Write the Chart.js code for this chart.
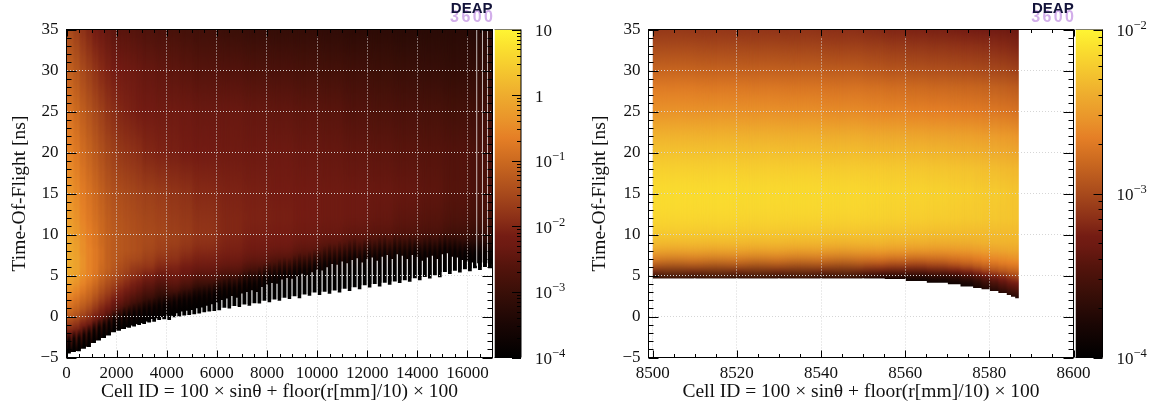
<!doctype html>
<html><head><meta charset="utf-8">
<style>html,body{margin:0;background:#fff;overflow:hidden}canvas{position:absolute;top:0}</style>
<script src="https://cdn.jsdelivr.net/npm/chart.js@4"></script>
</head><body>
<canvas id="heatL" width="494" height="408" style="left:0"></canvas>
<canvas id="barL" width="76" height="408" style="left:494px"></canvas>
<canvas id="heatR" width="520" height="408" style="left:580px"></canvas>
<canvas id="barR" width="76" height="408" style="left:1075px"></canvas>
<script>
const xTitle='Cell ID = 100 × sinθ + floor(r[mm]/10) × 100';
const yTitle='Time-Of-Flight [ns]';
const yTicks=[-5,0,5,10,15,20,25,30,35];
const yMinorTicks=[-4,-3,-2,-1,1,2,3,4,6,7,8,9,11,12,13,14,16,17,18,19,21,22,23,24,26,27,28,29,31,32,33,34];

const xTicksL=[0,2000,4000,6000,8000,10000,12000,14000,16000];
const xMinorL=[500,1000,1500,2500,3000,3500,4500,5000,5500,6500,7000,7500,8500,9000,9500,10500,11000,11500,12500,13000,13500,14500,15000,15500,16500];
const xTicksR=[8500,8520,8540,8560,8580,8600];
const xMinorR=[8505,8510,8515,8525,8530,8535,8545,8550,8555,8565,8570,8575,8585,8590,8595];

// colour map: position on the colour bar, colour
const cmapPos=[0,.05,.1,.2,.28,.34,.37,.42,.5,.6,.67,.72,.8,.9,.95,1];
const cmapHex=['#000000','#0d0302','#1a0604','#3a0f08','#55140c','#6d1a12','#741c13','#8a2e17','#a84a1c','#cc6a20','#e57f26','#e9922a','#eeac2e','#f7d02f','#fbe22f','#fff533'];

// left panel: heat columns, value = log10(z) at the y knots
const leftKnots=[-5,-4,-3,-2,-1,0,1,2,3,4,5,6,7,8,9,10,12,15,20,25,30,35];
const leftColX=[125,375,625,875,1125,1375,1625,1875,2125,2375,2625,2875,3250,3750,4250,4750,5500,6500,7500,8500,9500,10500,11500,12500,13500,14500,15500,16500];
const leftColW=[250,250,250,250,250,250,250,250,250,250,250,250,500,500,500,500,1000,1000,1000,1000,1000,1000,1000,1000,1000,1000,1000,1000];
const leftLogZ=[
[-4,-3.6,-2.9,-2.25,-1.7,-1.25,-.95,-.7,-.45,-.25,-.1,-.05,-.05,-.1,-.1,-.15,-.25,-.35,-.6,-.85,-1.15,-1.5],
[-4,-3.7,-3,-2.4,-1.85,-1.4,-1.1,-.85,-.6,-.4,-.2,-.15,-.15,-.2,-.25,-.3,-.4,-.5,-.75,-1,-1.3,-1.65],
[-4,-3.85,-3.25,-2.65,-2.1,-1.65,-1.3,-1.05,-.8,-.6,-.45,-.4,-.4,-.45,-.45,-.5,-.6,-.7,-.95,-1.2,-1.5,-1.85],
[-4,-3.95,-3.5,-2.95,-2.35,-1.85,-1.5,-1.2,-1,-.8,-.6,-.6,-.6,-.6,-.65,-.65,-.75,-.85,-1.1,-1.35,-1.65,-2],
[-4,-4,-3.75,-3.25,-2.65,-2.1,-1.75,-1.45,-1.2,-1,-.8,-.75,-.75,-.75,-.8,-.8,-.9,-1,-1.25,-1.5,-1.8,-2.15],
[-4,-4,-3.9,-3.5,-2.95,-2.35,-2,-1.7,-1.45,-1.25,-1.05,-1,-.95,-.95,-1,-1,-1.05,-1.15,-1.4,-1.65,-1.95,-2.3],
[-4,-4,-4,-3.7,-3.2,-2.65,-2.2,-1.9,-1.65,-1.45,-1.25,-1.15,-1.15,-1.15,-1.15,-1.15,-1.2,-1.3,-1.55,-1.8,-2.05,-2.4],
[-4,-4,-4,-3.85,-3.45,-2.95,-2.5,-2.15,-1.85,-1.6,-1.4,-1.3,-1.25,-1.25,-1.25,-1.25,-1.3,-1.4,-1.65,-1.9,-2.15,-2.5],
[-4,-4,-4,-3.95,-3.65,-3.2,-2.75,-2.35,-2.05,-1.8,-1.55,-1.45,-1.35,-1.3,-1.3,-1.3,-1.35,-1.45,-1.75,-2,-2.2,-2.55],
[-4,-4,-4,-4,-3.8,-3.4,-2.95,-2.55,-2.25,-1.95,-1.7,-1.55,-1.45,-1.35,-1.35,-1.35,-1.4,-1.5,-1.8,-2.05,-2.25,-2.55],
[-4,-4,-4,-4,-3.9,-3.55,-3.15,-2.75,-2.4,-2.1,-1.85,-1.7,-1.5,-1.4,-1.4,-1.4,-1.45,-1.55,-1.85,-2.1,-2.3,-2.6],
[-4,-4,-4,-4,-3.95,-3.65,-3.3,-2.9,-2.55,-2.25,-1.95,-1.75,-1.55,-1.45,-1.45,-1.45,-1.5,-1.6,-1.9,-2.15,-2.35,-2.65],
[-4,-4,-4,-4,-4,-3.8,-3.5,-3.1,-2.75,-2.45,-2.1,-1.8,-1.65,-1.55,-1.5,-1.5,-1.55,-1.65,-2,-2.2,-2.4,-2.7],
[-4,-4,-4,-4,-4,-3.9,-3.7,-3.35,-3,-2.65,-2.35,-2,-1.8,-1.65,-1.6,-1.55,-1.6,-1.7,-2.05,-2.25,-2.45,-2.75],
[-4,-4,-4,-4,-4,-4,-3.8,-3.4,-2.9,-2.5,-2.25,-2.05,-1.85,-1.75,-1.65,-1.65,-1.7,-1.8,-2.1,-2.25,-2.5,-2.8],
[-4,-4,-4,-4,-4,-4,-3.9,-3.6,-3.15,-2.7,-2.4,-2.2,-2,-1.85,-1.75,-1.7,-1.75,-1.85,-2.15,-2.3,-2.55,-2.85],
[-4,-4,-4,-4,-4,-4,-4,-3.8,-3.45,-2.95,-2.55,-2.3,-2.1,-1.95,-1.85,-1.8,-1.85,-1.95,-2.2,-2.35,-2.6,-2.9],
[-4,-4,-4,-4,-4,-4,-4,-3.95,-3.7,-3.25,-2.8,-2.45,-2.25,-2.1,-2.05,-2,-2,-2.05,-2.25,-2.35,-2.65,-3],
[-4,-4,-4,-4,-4,-4,-4,-4,-3.9,-3.6,-3.15,-2.7,-2.4,-2.25,-2.15,-2.1,-2.05,-2.1,-2.3,-2.4,-2.7,-3.05],
[-4,-4,-4,-4,-4,-4,-4,-4,-4,-3.85,-3.5,-3,-2.6,-2.35,-2.2,-2.15,-2.1,-2.15,-2.3,-2.45,-2.75,-3.1],
[-4,-4,-4,-4,-4,-4,-4,-4,-4,-3.95,-3.75,-3.3,-2.85,-2.5,-2.35,-2.25,-2.15,-2.2,-2.35,-2.5,-2.8,-3.1],
[-4,-4,-4,-4,-4,-4,-4,-4,-4,-4,-3.9,-3.6,-3.2,-2.8,-2.5,-2.35,-2.25,-2.25,-2.4,-2.55,-2.85,-3.15],
[-4,-4,-4,-4,-4,-4,-4,-4,-4,-4,-4,-3.75,-3.4,-3,-2.65,-2.45,-2.3,-2.3,-2.45,-2.65,-2.9,-3.2],
[-4,-4,-4,-4,-4,-4,-4,-4,-4,-4,-4,-3.85,-3.6,-3.25,-2.8,-2.55,-2.4,-2.35,-2.5,-2.7,-2.95,-3.2],
[-4,-4,-4,-4,-4,-4,-4,-4,-4,-4,-4,-3.9,-3.7,-3.35,-2.95,-2.65,-2.5,-2.4,-2.55,-2.75,-3,-3.25],
[-4,-4,-4,-4,-4,-4,-4,-4,-4,-4,-4,-3.95,-3.75,-3.45,-3.05,-2.75,-2.6,-2.5,-2.6,-2.8,-3.05,-3.25],
[-4,-4,-4,-4,-4,-4,-4,-4,-4,-4,-4,-4,-3.8,-3.55,-3.2,-2.9,-2.7,-2.6,-2.65,-2.85,-3.1,-3.25],
[-4,-4,-4,-4,-4,-4,-4,-4,-4,-4,-4,-4,-3.85,-3.65,-3.35,-3.05,-2.85,-2.75,-2.75,-2.9,-3.1,-3.3]
];
// left panel: lower boundary comb
const toothX=[100,300,500,700,900,1100,1300,1500,1700,1900,2100,2300,2500,2700,2900,3100,3300,3500,3700,3900,4100,4300,4500,4700,4900,5100,5300,5500,5700,5900,6100,6300,6500,6700,6900,7100,7300,7500,7700,7900,8100,8300,8500,8700,8900,9100,9300,9500,9700,9900,10100,10300,10500,10700,10900,11100,11300,11500,11700,11900,12100,12300,12500,12700,12900,13100,13300,13500,13700,13900,14100,14300,14500,14700,14900,15100,15300,15500,15700,15900,16100,16300,16500,16700,16900];
const toothLow=[-4.6,-4.4,-4.3,-4,-3.8,-3.3,-3,-2.7,-2.4,-2,-1.8,-1.6,-1.45,-1.3,-1.1,-1,-.8,-.7,-.5,-.4,-.5,-.15,0,.05,.1,.2,.3,.45,.55,.6,.7,1,.9,1.2,1.1,1.4,1.25,1.55,1.5,1.85,1.65,2,1.85,2.2,2.05,2.4,2.15,2.6,2.45,2.85,2.55,2.95,2.7,3.1,2.85,3.3,3.05,3.5,3.25,3.75,3.45,3.9,3.6,4.05,3.8,4.2,4,4.35,4.15,4.6,4.35,4.75,4.55,4.95,4.7,5.35,5.1,5.5,5.3,5.7,5.45,5.8,5.6,5.95,5.8];
const toothTop=[-4.4,-4.2,-4.1,-3.7,-3.5,-3.1,-2.8,-2.5,-2.2,-1.8,-1.6,-1.3,-1.1,-.9,-.8,-.6,-.3,-.2,0,.1,.1,.4,.6,.7,.8,1,1.1,1.3,1.5,1.7,2,2.2,2.5,2.3,2.8,3,3.2,3,3.6,3.9,4.1,4,4.5,4.7,4.6,4.9,5.2,5,5.4,5.7,5.6,6,6.4,6.3,6.7,6.5,6.9,7.1,6.6,7,7.2,6.8,7.3,7.5,7,7.6,7.4,7,7.5,7.3,6.8,7.2,7.4,7,7.6,7.7,7.3,7.2,6.9,6.7,6.6,6.5,6.6,6.5,6.4];
const openLineX=[16370,16600,16800];
const openLineLow=[6.2,6.2,6];

// right panel
const rightKnots=[2,3,4,4.5,5,5.5,6,6.5,7,8,9,10,12,15,18,20,22,25,28,30,33,35];
const rightColX=[8505,8515,8525,8535,8545,8552.5,8557.5,8562.5,8567.5,8571.5,8574.5,8577,8579,8581,8583,8584.5,8585.5,8586.5];
const rightColW=[10,10,10,10,10,5,5,5,5,3,3,2,2,2,2,1,1,1];
const rightEdge=[4.56,4.56,4.56,4.56,4.56,4.56,4.5,4.25,4.05,3.85,3.6,3.4,3.25,3.05,2.8,2.55,2.35,2.15];
const rightDataStart=8500, rightDataEnd=8587;
const rightLogZ=[
[-4,-4,-4,-3.8,-3.6,-3.24,-2.96,-2.78,-2.64,-2.42,-2.3,-2.24,-2.16,-2.13,-2.2,-2.28,-2.36,-2.56,-2.69,-2.84,-3,-3.12],
[-4,-4,-4,-3.8,-3.6,-3.24,-2.96,-2.78,-2.64,-2.42,-2.3,-2.24,-2.16,-2.13,-2.2,-2.28,-2.36,-2.56,-2.7,-2.85,-3.01,-3.13],
[-4,-4,-4,-3.81,-3.61,-3.26,-2.98,-2.79,-2.65,-2.43,-2.31,-2.25,-2.17,-2.14,-2.21,-2.29,-2.37,-2.57,-2.71,-2.86,-3.02,-3.14],
[-4,-4,-4,-3.82,-3.62,-3.28,-3,-2.81,-2.67,-2.44,-2.32,-2.26,-2.17,-2.14,-2.21,-2.3,-2.38,-2.58,-2.72,-2.87,-3.03,-3.15],
[-4,-4,-4,-3.84,-3.64,-3.3,-3.03,-2.84,-2.7,-2.46,-2.33,-2.27,-2.18,-2.15,-2.22,-2.31,-2.39,-2.6,-2.74,-2.89,-3.05,-3.17],
[-4,-4,-4,-3.88,-3.66,-3.34,-3.08,-2.88,-2.73,-2.48,-2.34,-2.28,-2.19,-2.16,-2.23,-2.32,-2.41,-2.62,-2.76,-2.91,-3.07,-3.19],
[-4,-4,-4,-3.9,-3.68,-3.38,-3.12,-2.92,-2.76,-2.5,-2.36,-2.29,-2.2,-2.17,-2.24,-2.33,-2.42,-2.63,-2.78,-2.93,-3.09,-3.21],
[-4,-4,-3.96,-3.9,-3.72,-3.42,-3.16,-2.96,-2.8,-2.52,-2.38,-2.3,-2.21,-2.18,-2.25,-2.34,-2.44,-2.65,-2.8,-2.95,-3.11,-3.23],
[-4,-4,-3.94,-3.84,-3.68,-3.36,-3.1,-2.92,-2.78,-2.53,-2.39,-2.31,-2.22,-2.19,-2.26,-2.35,-2.45,-2.66,-2.81,-2.96,-3.12,-3.24],
[-4,-3.98,-3.88,-3.76,-3.6,-3.3,-3.06,-2.88,-2.75,-2.53,-2.39,-2.31,-2.23,-2.2,-2.27,-2.36,-2.46,-2.67,-2.82,-2.97,-3.13,-3.25],
[-4,-3.95,-3.82,-3.68,-3.5,-3.22,-3,-2.84,-2.72,-2.52,-2.39,-2.32,-2.24,-2.21,-2.28,-2.37,-2.47,-2.68,-2.83,-2.98,-3.14,-3.26],
[-4,-3.9,-3.72,-3.58,-3.4,-3.14,-2.94,-2.8,-2.68,-2.5,-2.38,-2.32,-2.24,-2.22,-2.29,-2.38,-2.48,-2.69,-2.84,-2.99,-3.15,-3.27],
[-4,-3.84,-3.62,-3.48,-3.3,-3.06,-2.88,-2.76,-2.65,-2.48,-2.37,-2.32,-2.25,-2.23,-2.3,-2.39,-2.49,-2.7,-2.85,-3,-3.16,-3.28],
[-3.99,-3.76,-3.52,-3.38,-3.2,-2.98,-2.84,-2.72,-2.62,-2.46,-2.36,-2.32,-2.25,-2.23,-2.31,-2.4,-2.5,-2.71,-2.86,-3.01,-3.17,-3.29],
[-3.96,-3.68,-3.42,-3.28,-3.12,-2.92,-2.8,-2.68,-2.6,-2.45,-2.36,-2.32,-2.26,-2.24,-2.32,-2.41,-2.51,-2.72,-2.87,-3.02,-3.18,-3.3],
[-3.9,-3.6,-3.34,-3.2,-3.04,-2.88,-2.76,-2.66,-2.58,-2.44,-2.36,-2.32,-2.26,-2.25,-2.33,-2.42,-2.52,-2.73,-2.88,-3.03,-3.19,-3.31],
[-3.86,-3.56,-3.3,-3.16,-3,-2.86,-2.75,-2.65,-2.57,-2.44,-2.36,-2.32,-2.27,-2.26,-2.34,-2.43,-2.53,-2.74,-2.89,-3.04,-3.2,-3.32],
[-3.82,-3.52,-3.26,-3.12,-2.98,-2.84,-2.74,-2.64,-2.56,-2.44,-2.36,-2.32,-2.27,-2.26,-2.34,-2.44,-2.54,-2.75,-2.9,-3.05,-3.21,-3.33]
];

// colour bars
const cbTicksL=[1e-4,1e-3,1e-2,1e-1,1,10];
const cbBaseL=['10','10','10','10','1','10'];
const cbExpL=['−4','−3','−2','−1','',''];
const cbTicksR=[1e-4,1e-3,1e-2];
const cbBaseR=['10','10','10'];
const cbExpR=['−4','−3','−2'];
const decadeSteps=[2,3,4,5,6,7,8,9];

const SERIF='"Liberation Serif","Times New Roman",serif';
const INK='#000';

function hexRgb(h){return [1,3,5].map(i=>parseInt(h.slice(i,i+2),16));}
function cmap(t){
  t=Math.max(0,Math.min(1,t));
  for(let i=1;i<cmapPos.length;i++){
    if(t<=cmapPos[i]){
      const f=(t-cmapPos[i-1])/(cmapPos[i]-cmapPos[i-1]);
      const a=hexRgb(cmapHex[i-1]),b=hexRgb(cmapHex[i]);
      return 'rgb('+a.map((v,k)=>Math.round(v+(b[k]-v)*f)).join(',')+')';
    }
  }
  return cmapHex[cmapHex.length-1];
}
function columnFill(ctx,knots,logs,lo,hi){
  const c=ctx.chart,y=c.scales.y;
  const a=y.getPixelForValue(knots[0]),b=y.getPixelForValue(knots[knots.length-1]);
  if(!isFinite(a)||!isFinite(b))return '#000';
  const g=c.ctx.createLinearGradient(0,a,0,b);
  knots.forEach((k,i)=>g.addColorStop((k-knots[0])/(knots[knots.length-1]-knots[0]),cmap((logs[i]-lo)/(hi-lo))));
  return g;
}
// soft column edges: only changes how a column's fill is painted
const softEdges={id:'softEdges',
  beforeDatasetDraw(chart,args){const s=chart.data.datasets[args.index].soft;if(s)chart.ctx.filter='blur('+s+'px)';},
  afterDatasetDraw(chart,args){if(chart.data.datasets[args.index].soft)chart.ctx.filter='none';}};
function pushColumns(ds,colX,colW,u,knots,logs,lo,hi){
  const col=(x,i,order,soft)=>({label:'col'+x,stack:'a',order,soft,barThickness:colW[i]*u,inflateAmount:.5,
    backgroundColor:ctx=>columnFill(ctx,knots,logs[i],lo,hi),data:[{x,y:[-8,38]}]});
  colX.forEach((x,i)=>ds.push(col(x,i,10,+(colW[i]*u*.22).toFixed(2))));
  colX.forEach((x,i)=>ds.push(col(x,i,11,0)));
}
function axisMarks(sets){return {id:'axisMarks',afterDraw(chart){
  const {ctx,chartArea:a,scales:{x,y}}=chart;
  ctx.save();ctx.fillStyle=INK;
  const vt=(v,len)=>{const p=Math.round(x.getPixelForValue(v));ctx.fillRect(p,a.top,1,len);ctx.fillRect(p,a.bottom-len,1,len);};
  const ht=(v,len)=>{const p=Math.round(y.getPixelForValue(v));ctx.fillRect(a.left,p,len,1);ctx.fillRect(a.right-len,p,len,1);};
  sets.xMajor.forEach(v=>vt(v,7));sets.xMinor.forEach(v=>vt(v,3.5));
  yTicks.forEach(v=>ht(v,10));yMinorTicks.forEach(v=>ht(v,5));
  ctx.strokeStyle=INK;ctx.lineWidth=1;ctx.strokeRect(a.left,a.top,a.right-a.left,a.bottom-a.top);
  // logo
  ctx.textAlign='center';ctx.textBaseline='middle';
  ctx.fillStyle='#d2aeea';ctx.font='bold 16px "Liberation Sans",Arial,sans-serif';
  ctx.letterSpacing='2.4px';ctx.fillText('3600',sets.logoX+1,18);ctx.letterSpacing='0px';
  ctx.fillStyle='#13133a';ctx.font='bold 15px "Liberation Sans",Arial,sans-serif';
  ctx.fillText('DEAP',sets.logoX,8.5);
  ctx.restore();
}};}
function heatOptions(xMin,xMax,xTicks,plotLeft,padRight){
  return {responsive:false,animation:false,events:[],
    layout:{padding:{top:29.5,right:padRight,left:0,bottom:0}},
    plugins:{legend:{display:false},tooltip:{enabled:false}},
    scales:{
      x:{type:'linear',min:xMin,max:xMax,offset:false,
        afterBuildTicks:s=>{s.ticks=xTicks.map(v=>({value:v}));},
        afterFit:s=>{s.height=50.5;s.paddingLeft=0;s.paddingRight=0;},
        grid:{z:1,color:'#d6d6d6',lineWidth:1,drawTicks:false,offset:false},
        border:{display:false,dash:[1,2]},
        ticks:{padding:6,maxRotation:0,autoSkip:false,color:'#111',font:{family:SERIF,size:17},callback:v=>String(v)},
        title:{display:true,text:xTitle,color:'#111',font:{family:SERIF,size:19.5},padding:{top:0,bottom:4}}},
      y:{type:'linear',min:-5,max:35,stacked:false,position:'left',
        afterBuildTicks:s=>{s.ticks=yTicks.map(v=>({value:v}));},
        afterFit:s=>{s.width=plotLeft;},
        grid:{z:1,color:'#d6d6d6',lineWidth:1,drawTicks:false},
        border:{display:false,dash:[1,2]},
        ticks:{padding:8,autoSkip:false,color:'#111',font:{family:SERIF,size:17},callback:v=>String(v).replace('-','−')},
        title:{display:true,text:yTitle,color:'#111',font:{family:SERIF,size:19.5},padding:{top:8,bottom:0}}}
    }};
}
function pxPerUnit(plotW,xMin,xMax){return plotW/(xMax-xMin);}

// LEFT
(function(){
  const xMin=0,xMax=17000,u=pxPerUnit(426,xMin,xMax),ds=[];
  ds.push({label:'open lines',stack:'a',order:1,barThickness:1,inflateAmount:0,backgroundColor:'rgba(255,255,255,.72)',
    data:openLineX.map((x,i)=>({x,y:[openLineLow[i],35]}))});
  ds.push({label:'gaps',stack:'a',order:2,barThickness:1.1,inflateAmount:0,backgroundColor:'#fff',
    data:toothX.map((x,i)=>({x:x+100,y:[toothLow[i],toothTop[i]]}))});
  ds.push({label:'below',stack:'a',order:3,barThickness:200*u,inflateAmount:.6,backgroundColor:'#fff',
    data:toothX.map((x,i)=>({x,y:[-5,toothLow[i]]}))});
  ds.push({label:'comb',stack:'a',order:4,barThickness:3,inflateAmount:0,
    backgroundColor:ctx=>{
      const r=ctx.raw,y=ctx.chart.scales.y;
      if(!r)return '#000';
      const p0=y.getPixelForValue(r.y[0]),p1=y.getPixelForValue(r.y[1]);
      if(!isFinite(p0)||!isFinite(p1))return '#000';
      const g=ctx.chart.ctx.createLinearGradient(0,p0,0,p1);
      g.addColorStop(0,'rgba(0,0,0,1)');g.addColorStop(.6,'rgba(6,1,1,.8)');g.addColorStop(1,'rgba(20,4,2,0)');return g;},
    data:toothX.map((x,i)=>({x,y:[toothLow[i],toothTop[i]+2.6]}))});
  pushColumns(ds,leftColX,leftColW,u,leftKnots,leftLogZ,-4,1);
  new Chart(document.getElementById('heatL'),{type:'bar',data:{datasets:ds},
    options:heatOptions(xMin,xMax,xTicksL,66.5,1.5),
    plugins:[softEdges,axisMarks({xMajor:xTicksL,xMinor:xMinorL,logoX:471.7})]});
})();

// RIGHT
(function(){
  const xMin=8499,xMax=8600,u=pxPerUnit(425,xMin,xMax),ds=[];
  rightColX.forEach((x,i)=>ds.push({label:'below'+x,stack:'a',order:2,barThickness:rightColW[i]*u,inflateAmount:.6,backgroundColor:'#fff',
    data:[{x,y:[-5,rightEdge[i]]}]}));
  ds.push({label:'before data',stack:'a',order:1,barThickness:(rightDataStart-xMin)*u,inflateAmount:0,backgroundColor:'#fff',
    data:[{x:(xMin+rightDataStart)/2,y:[-5,35]}]});
  ds.push({label:'after data',stack:'a',order:1,barThickness:(xMax-rightDataEnd)*u,inflateAmount:0,backgroundColor:'#fff',
    data:[{x:(xMax+rightDataEnd)/2,y:[-5,35]}]});
  pushColumns(ds,rightColX,rightColW,u,rightKnots,rightLogZ,-4,-2);
  new Chart(document.getElementById('heatR'),{type:'bar',data:{datasets:ds},
    options:heatOptions(xMin,xMax,xTicksR,68.5,26.5),
    plugins:[softEdges,axisMarks({xMajor:xTicksR,xMinor:xMinorR,logoX:472.8})]});
})();

// COLOUR BARS
function colourBar(id,lo,hi,ticks,bases,exps,scaleWidth){
  const minors=[];ticks.forEach(t=>{if(t<hi)decadeSteps.forEach(m=>minors.push(t*m));});
  new Chart(document.getElementById(id),{type:'bar',
    data:{labels:['z'],datasets:[{data:[[lo,hi]],barPercentage:1,categoryPercentage:1,inflateAmount:0,
      backgroundColor:ctx=>{
        const a=ctx.chart.chartArea;if(!a||!isFinite(a.bottom)||!isFinite(a.top))return '#000';
        const g=ctx.chart.ctx.createLinearGradient(0,a.bottom,0,a.top);
        cmapPos.forEach((p,i)=>g.addColorStop(p,cmapHex[i]));return g;}}]},
    options:{responsive:false,animation:false,events:[],
      layout:{padding:{top:29.5,bottom:50.5,left:.5,right:0}},
      plugins:{legend:{display:false},tooltip:{enabled:false}},
      scales:{
        x:{display:false},
        y:{type:'logarithmic',position:'right',min:lo,max:hi,
          afterBuildTicks:s=>{s.ticks=ticks.map(v=>({value:v}));},
          afterFit:s=>{s.width=scaleWidth;},
          grid:{display:false},border:{display:false},
          ticks:{display:false}}}},
    plugins:[{id:'cbMarks',afterDraw(chart){
      const {ctx,chartArea:a,scales:{y}}=chart;
      ctx.save();ctx.fillStyle=INK;
      ticks.forEach(v=>ctx.fillRect(a.right-9,Math.round(y.getPixelForValue(v)),9,1));
      minors.forEach(v=>{ctx.fillRect(a.right-4,Math.round(y.getPixelForValue(v)),4,1);});
      ctx.fillRect(a.right-.5,a.top,1,a.bottom-a.top);
      ctx.fillRect(a.left,a.top,a.right-a.left,.5);
      ctx.fillRect(a.left,a.bottom-.5,a.right-a.left,1);
      ctx.fillStyle='#111';ctx.textAlign='left';ctx.textBaseline='middle';
      ticks.forEach((v,i)=>{
        const py=y.getPixelForValue(v)+2,px=a.right+14;
        ctx.font='17px '+SERIF;ctx.fillText(bases[i],px,py);
        if(exps[i]){const w=ctx.measureText(bases[i]).width;ctx.font='12.5px '+SERIF;ctx.fillText(exps[i],px+w,py-6);}
      });
      ctx.restore();
    }}]});
}
colourBar('barL',1e-4,10,cbTicksL,cbBaseL,cbExpL,49);
colourBar('barR',1e-4,1e-2,cbTicksR,cbBaseR,cbExpR,48.5);
</script>
</body></html>
